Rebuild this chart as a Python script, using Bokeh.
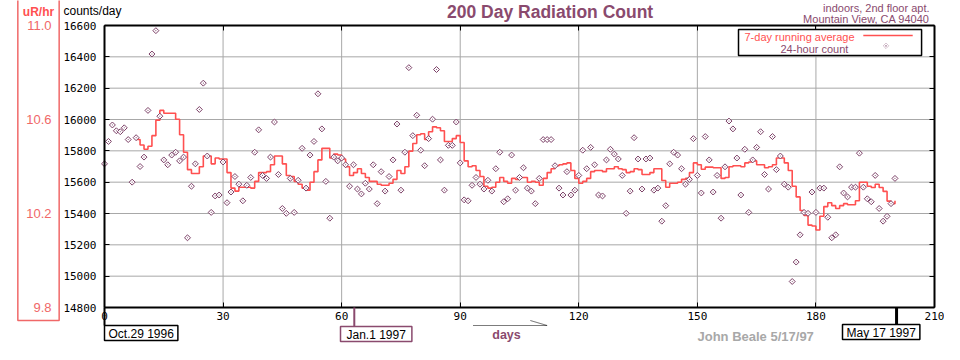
import math
from bokeh.plotting import figure
from bokeh.models import (Range1d, LinearAxis, FixedTicker, PrintfTickFormatter,
                          Label, BoxAnnotation, PolyAnnotation, Grid)
from bokeh.embed import file_html
from bokeh.resources import INLINE

# ---------------- data ----------------
count_days = list(range(0, 201))
daily_counts = [
    15717, 15860, 15965, 15928, 15922, 15947, 15872, 15600, 15884, 15700,
    15760, 16058, 16418, 16567, 16021, 15742, 15711, 15773, 15791, 15736,
    15760, 15245, 15574, 15717, 16064, 16232, 15767, 15407, 15512, 15518,
    15729, 15469, 15537, 15636, 15587, 15481, 15580, 15630, 15791, 15934,
    15643, 15624, 15760, 15984, 15649, 15432, 15401, 15624, 15407, 15612,
    15816, 15562, 15773, 15860, 16164, 15940, 15605, 15370, 15760, 15736,
    15754, 15711, 15574, 15711, 15556, 15525, 15593, 15556, 15711, 15463,
    15667, 15543, 15636, 15742, 15971, 15549, 15791, 16331, 15897, 16027,
    15804, 15705, 15878, 16002, 16319, 15742, 15549, 15835, 15835, 15984,
    15723, 15487, 15481, 15580, 15630, 15587, 15556, 15612, 15543, 15686,
    15791, 15475, 15494, 15773, 15549, 15630, 15692, 15562, 15543, 15463,
    15624, 15872, 15872, 15872, 15705, 15562, 15518, 15667, 15518, 15549,
    15643, 15804, 15686, 15822, 15711, 15518, 15512, 15742, 15810, 15779,
    15748, 15643, 15401, 15543, 15884, 15748, 15556, 15748, 15754, 15549,
    15562, 15351, 15450, 15717, 15791, 15773, 15686, 15587, 15618, 15878,
    15643, 15531, 15891, 15742, 15537, 15643, 15370, 15698, 15990, 15940,
    15754, 15518, 15810, 15407, 15742, 15822, 15922, 15649, 15556, 15891,
    15680, 15767, 15587, 15568, 14966, 15090, 15264, 15407, 15401, 15537,
    15407, 15562, 15562, 15376, 15245, 15264, 15698, 15531, 15506, 15568,
    15568, 15785, 15568, 15494, 15475, 15643, 15432, 15351, 15382, 15463,
    15624,
]

avg_days = list(range(8, 201))
running_avg = [
    15872, 15837, 15810, 15829, 15897, 15996, 16058, 16040, 16040, 16040,
    16002, 15903, 15791, 15680, 15655, 15655, 15698, 15767, 15767, 15717,
    15754, 15748, 15748, 15661, 15562, 15543, 15568, 15568, 15568, 15562,
    15605, 15661, 15661, 15667, 15711, 15767, 15767, 15717, 15643, 15636,
    15605, 15587, 15562, 15549, 15599, 15667, 15742, 15816, 15816, 15754,
    15779, 15773, 15748, 15698, 15643, 15661, 15686, 15655, 15630, 15605,
    15605, 15587, 15580, 15580, 15593, 15618, 15674, 15655, 15698, 15798,
    15847, 15903, 15909, 15872, 15922, 15953, 15947, 15928, 15860, 15860,
    15878, 15897, 15853, 15736, 15698, 15705, 15674, 15636, 15574, 15562,
    15568, 15599, 15630, 15605, 15593, 15624, 15618, 15630, 15630, 15599,
    15605, 15599, 15580, 15624, 15661, 15686, 15705, 15711, 15717, 15723,
    15674, 15624, 15593, 15605, 15624, 15667, 15674, 15674, 15667, 15686,
    15686, 15698, 15686, 15680, 15661, 15667, 15686, 15680, 15649, 15649,
    15661, 15686, 15686, 15611, 15568, 15593, 15593, 15599, 15618, 15624,
    15661, 15723, 15711, 15682, 15696, 15696, 15692, 15692, 15624, 15630,
    15698, 15705, 15705, 15698, 15723, 15729, 15736, 15711, 15711, 15692,
    15698, 15711, 15754, 15754, 15723, 15674, 15574, 15506, 15419, 15388,
    15326, 15320, 15295, 15382, 15444, 15469, 15450, 15432, 15450, 15463,
    15456, 15456, 15481, 15599, 15599, 15574, 15566, 15587, 15566, 15541,
    15479, 15463, 15481,
]

x_ticks = [0, 30, 60, 90, 120, 150, 180, 210]
x_grid_ticks = [30, 60, 90, 120, 150, 180]
y_ticks = [14800, 15000, 15200, 15400, 15600, 15800, 16000, 16200, 16400, 16600]
y_grid_ticks = [15000, 15200, 15400, 15600, 15800, 16000, 16200, 16400]
ur_ticks = [9.8, 10.2, 10.6, 11.0]
date_marks = ["Oct.29 1996", "Jan.1 1997", "May 17 1997"]
date_mark_days = [0, 63.2, 200.4]

# ---------------- style / geometry ----------------
PLUM = "#8a4a6e"
DOT = "#7b3f66"
SALMON = "#ff5050"
SALMON_LT = "#f06868"
GRID = "#a8a8a8"
MONO = "DejaVu Sans Mono"
SANS = "Liberation Sans"

W, H = 944, 344
FX0, FX1 = 104, 934          # canvas x of day 0 and day 210
FY0, FY1 = 25, 307           # canvas y of 16600 and 14800
PXD = (FX1 - FX0) / 210.0
PYC = (FY1 - FY0) / 1800.0


def dx(px):
    return (px - FX0) / PXD


def dy(py):
    return 16600 - (py - FY0) / PYC


def ur(v):
    return 9.8 + (v - 14800) * 1.2 / 1800.0


# the frame fills the whole canvas; axes sit at fixed data locations
p = figure(width=W, height=H, output_backend="svg", toolbar_location=None,
           x_range=Range1d(dx(0), dx(W)), y_range=Range1d(dy(H), dy(0)),
           x_axis_location=None, y_axis_location=None,
           min_border=0, min_border_left=0, min_border_right=0,
           min_border_top=0, min_border_bottom=0)
p.outline_line_color = None
p.center = [r for r in p.center if not isinstance(r, Grid)]
p.extra_y_ranges = {"ur": Range1d(ur(dy(H)), ur(dy(0)))}


def frame_axis(ax, loc, bounds):
    ax.fixed_location = loc
    ax.bounds = bounds
    ax.axis_line_color = "black"
    ax.axis_line_width = 2
    ax.major_tick_line_color = "black"
    ax.major_tick_line_width = 1
    ax.major_tick_in = 5
    ax.major_tick_out = 0
    ax.minor_tick_line_color = None


ax_b = LinearAxis(ticker=FixedTicker(ticks=x_ticks), formatter=PrintfTickFormatter(format="%d"))
frame_axis(ax_b, 14800, (0, 210))
ax_b.major_label_text_font = MONO
ax_b.major_label_text_font_size = "11px"
ax_b.major_label_text_color = "black"
ax_b.major_label_standoff = 4
p.add_layout(ax_b, "below")

ax_l = LinearAxis(ticker=FixedTicker(ticks=y_ticks), formatter=PrintfTickFormatter(format="%d"))
frame_axis(ax_l, 0, (14800, 16600))
ax_l.major_label_text_font = MONO
ax_l.major_label_text_font_size = "11px"
ax_l.major_label_text_color = "black"
ax_l.major_label_standoff = 8
p.add_layout(ax_l, "left")

ax_t = LinearAxis(ticker=FixedTicker(ticks=x_ticks))
frame_axis(ax_t, 16600, (0, 210))
ax_t.major_label_overrides = {t: "" for t in x_ticks}
p.add_layout(ax_t, "above")

ax_r = LinearAxis(ticker=FixedTicker(ticks=y_ticks))
frame_axis(ax_r, 210, (14800, 16600))
ax_r.major_label_overrides = {t: "" for t in y_ticks}
p.add_layout(ax_r, "right")

ax_ur = LinearAxis(y_range_name="ur", ticker=FixedTicker(ticks=ur_ticks),
                   formatter=PrintfTickFormatter(format="%.1f"))
ax_ur.fixed_location = dx(51)
ax_ur.axis_line_color = None
ax_ur.major_tick_line_color = None
ax_ur.minor_tick_line_color = None
ax_ur.major_tick_in = 0
ax_ur.major_tick_out = 0
ax_ur.major_label_standoff = 0
ax_ur.major_label_text_font = SANS
ax_ur.major_label_text_font_size = "13px"
ax_ur.major_label_text_color = SALMON_LT
p.add_layout(ax_ur, "left")

# grid lines, drawn from the tick lists
p.segment(x0=x_grid_ticks, y0=[14800] * len(x_grid_ticks), x1=x_grid_ticks,
          y1=[16600] * len(x_grid_ticks), line_color=GRID, line_width=1, level="underlay")
p.segment(x0=[0] * len(y_grid_ticks), y0=y_grid_ticks, x1=[210] * len(y_grid_ticks),
          y1=y_grid_ticks, line_color=GRID, line_width=1, level="underlay")

# ---------------- data glyphs ----------------
p.step(avg_days, running_avg, mode="after", line_color=SALMON, line_width=1.6)
p.scatter(count_days, daily_counts, marker="square_dot", angle=math.pi / 4, size=4.2,
          line_color=DOT, fill_color="white", line_width=1)


# ---------------- texts & annotations ----------------
def lab(text, px, py, size, color, align="left", baseline="middle", bold=False,
        font=SANS, **kw):
    l = Label(x=dx(px), y=dy(py), text=text, text_font=font,
              text_font_size=f"{size}px", text_color=color, text_align=align,
              text_baseline=baseline, text_font_style="bold" if bold else "normal", **kw)
    p.add_layout(l)
    return l


def vbar_mark(day, half_px, bottom_py, color):
    p.add_layout(BoxAnnotation(left=day - half_px / PXD, right=day + half_px / PXD,
                               top=dy(FY1), bottom=dy(bottom_py),
                               fill_color=color, fill_alpha=1, line_color=None))


# legend
lab("7-day running average", 738, 29, 11, SALMON, baseline="top",
    background_fill_color="white", border_line_color="black", border_line_width=1.5,
    padding=dict(left=6, right=67, top=1, bottom=13))
lab("24-hour count", 780, 48.5, 11, PLUM)
p.add_layout(BoxAnnotation(left=dx(862.8), right=dx(912.2), top=dy(34.2), bottom=dy(35.7),
                           fill_color=SALMON, fill_alpha=1, line_color=None))
cx, cy, r = 885.5, 45.3, 2.8
p.add_layout(PolyAnnotation(xs=[dx(cx - r), dx(cx), dx(cx + r), dx(cx)],
                            ys=[dy(cy), dy(cy - r), dy(cy), dy(cy + r)],
                            fill_color="white", fill_alpha=1, line_color=DOT, line_width=1))
p.add_layout(BoxAnnotation(left=dx(cx - 0.6), right=dx(cx + 0.6), top=dy(cy - 0.6),
                           bottom=dy(cy + 0.6), fill_color=DOT, fill_alpha=1, line_color=None))

# header texts
lab("200 Day Radiation Count", 549.6, 11, 17.5, PLUM, align="center", bold=True)
lab("counts/day", 63, 10, 12, "black")
lab("indoors, 2nd floor apt.", 929, 7.5, 11, PLUM, align="right")
lab("Mountain View, CA 94040", 929, 18.5, 11, PLUM, align="right")
lab("uR/hr", 38, -2, 12, SALMON, align="center", baseline="top", bold=True,
    border_line_color=SALMON_LT, border_line_width=1.5,
    padding=dict(left=5, right=5, top=6, bottom=302))

# date markers
vbar_mark(date_mark_days[0], 1.0, 325, "black")
vbar_mark(date_mark_days[1], 1.0, 326, PLUM)
vbar_mark(date_mark_days[2], 1.5, 324, "black")
lab(date_marks[0], 104, 325, 12, "black", baseline="top", background_fill_color="white",
    border_line_color="black", border_line_width=1.5,
    padding=dict(left=4, right=4, top=1, bottom=0))
lab(date_marks[1], 340, 326, 12, "black", baseline="top", background_fill_color="white",
    border_line_color=PLUM, border_line_width=1.5,
    padding=dict(left=6, right=6, top=1, bottom=0))
lab(date_marks[2], 842, 324, 12, "black", baseline="top", background_fill_color="white",
    border_line_color="black", border_line_width=1.5,
    padding=dict(left=4, right=4, top=1, bottom=0))

# "days" arrow
p.add_layout(PolyAnnotation(xs=[dx(472.5), dx(546.6), dx(529.8), dx(546.6)],
                            ys=[dy(325), dy(325), dy(320), dy(325)],
                            fill_color=None, fill_alpha=0, line_color="black", line_width=1))
lab("days", 506, 334, 12.5, PLUM, align="center", bold=True)
lab("John Beale 5/17/97", 697, 336, 13, "#a8a8a8", bold=True)

open("out.html", "w").write(file_html(p, INLINE))
